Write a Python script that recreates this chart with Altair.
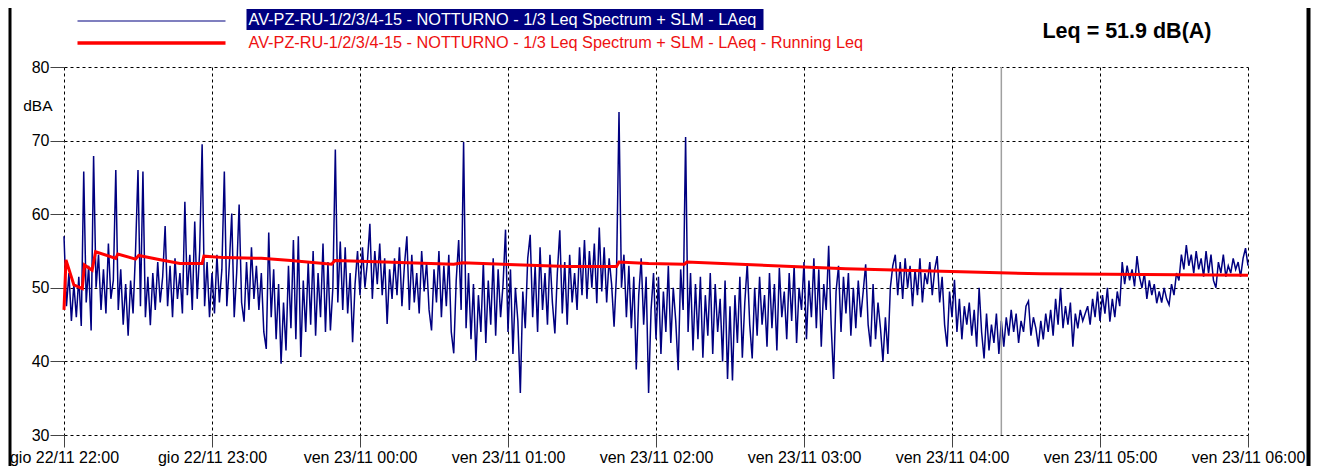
import altair as alt
import pandas as pd

# ---------------- data ----------------
tick_minutes = [0, 60, 120, 180, 240, 300, 360, 420, 480]
tick_labels = [
    "gio 22/11 22:00", "gio 22/11 23:00", "ven 23/11 00:00", "ven 23/11 01:00",
    "ven 23/11 02:00", "ven 23/11 03:00", "ven 23/11 04:00", "ven 23/11 05:00",
    "ven 23/11 06:00",
]
y_ticks = [30, 40, 50, 60, 70, 80]

# LAeq, one value per minute from 22:00 (minute 0) to 06:00 (minute 480)
laeq = [
    57.0, 47.5, 52.0, 45.5, 50.5, 46.0, 51.5, 44.8, 65.8, 48.0, 53.0, 44.2, 67.9, 50.0, 54.5, 47.0, 52.5, 46.5, 56.0, 48.5,
    51.0, 66.0, 47.0, 52.5, 45.0, 50.5, 43.5, 51.0, 46.5, 55.0, 66.0, 47.5, 65.8, 46.0, 51.5, 44.9, 52.0, 47.0, 53.5, 48.0,
    51.5, 58.4, 47.5, 53.0, 46.0, 54.0, 48.5, 52.0, 46.5, 61.7, 49.0, 54.5, 47.0, 59.0, 48.5, 55.0, 69.5, 47.5, 53.5, 46.0,
    52.0, 46.5, 54.5, 48.0, 52.5, 65.8, 47.5, 53.0, 60.1, 46.0, 52.0, 61.3, 48.0, 45.4, 53.5, 47.0, 55.5, 48.5, 53.0, 47.0,
    52.0, 44.0, 41.7, 57.5, 46.0, 52.5, 43.0, 50.5, 39.7, 48.0, 41.5, 53.0, 44.5, 56.5, 43.0, 57.0, 40.6, 51.0, 44.0, 53.5,
    45.0, 55.0, 43.5, 52.0, 46.0, 56.0, 44.0, 53.5, 44.2, 50.0, 68.8, 48.0, 56.3, 47.0, 55.5, 46.5, 52.0, 42.6, 50.5, 55.0,
    49.0, 55.5, 50.0, 53.5, 58.7, 48.5, 55.0, 50.5, 56.0, 49.0, 54.0, 45.1, 52.5, 48.5, 54.0, 49.0, 55.5, 47.5, 53.0, 57.0,
    47.0, 54.5, 48.0, 52.0, 46.5, 55.0, 49.5, 53.5, 47.0, 44.2, 52.5, 48.0, 55.0, 46.0, 53.0, 47.5, 54.5, 44.0, 41.1, 51.0,
    56.5, 47.0, 69.8, 44.5, 52.0, 43.0, 50.5, 40.1, 49.0, 44.0, 53.5, 42.5, 51.0, 45.0, 54.0, 43.5, 52.5, 46.0, 50.5, 57.9,
    44.0, 52.5, 41.0, 50.0, 45.5, 35.7, 49.5, 44.5, 54.0, 57.2, 46.0, 53.0, 44.0, 55.5, 47.0, 52.0, 45.0, 54.5, 48.0, 43.8,
    52.0, 57.8, 46.5, 53.5, 45.0, 54.5, 48.0, 52.0, 47.0, 55.5, 49.0, 56.5, 48.5, 55.0, 50.0, 56.0, 47.9, 58.2, 49.5, 55.5,
    48.0, 54.0, 50.5, 44.7, 52.0, 73.9, 50.0, 54.5, 46.0, 53.0, 44.5, 51.5, 38.9, 49.0, 54.0, 45.0, 51.5, 35.7, 47.0, 52.0,
    43.0, 51.5, 41.0, 49.5, 44.0, 53.0, 42.5, 50.0, 45.5, 38.8, 52.5, 47.0, 70.5, 44.0, 52.0, 41.5, 50.5, 43.0, 51.5, 40.5,
    49.0, 43.5, 52.0, 41.0, 50.5, 44.0, 48.5, 40.0, 51.0, 37.6, 47.5, 37.4, 49.0, 42.5, 51.5, 40.5, 48.0, 53.3, 45.0, 40.4,
    50.0, 43.5, 51.5, 45.0, 49.0, 42.0, 52.0, 44.5, 50.5, 41.5, 52.7, 46.0, 49.5, 43.0, 52.0, 45.5, 53.0, 42.5, 50.0, 47.0,
    53.5, 43.0, 51.0, 46.0, 54.0, 44.5, 52.5, 42.0, 50.5, 47.0, 55.7, 45.0, 37.6, 49.5, 53.0, 44.0, 51.5, 46.5, 52.0, 43.5,
    50.0, 44.5, 51.0, 46.0, 49.5, 53.2, 45.0, 42.0, 50.5, 43.0, 48.0, 44.5, 40.0, 46.0, 41.0, 50.0, 53.0, 54.5, 49.0, 53.5,
    48.5, 54.0, 50.0, 53.0, 47.5, 52.5, 49.0, 54.0, 48.0, 52.0, 50.5, 53.5, 49.0, 52.5, 54.3, 48.0, 51.5, 45.0, 42.0, 49.5,
    46.0, 51.1, 44.0, 48.5, 43.0, 47.5, 45.0, 48.0, 43.5, 47.0, 42.0, 50.0, 44.0, 40.4, 46.5, 41.5, 45.0, 42.5, 46.5, 41.0,
    45.5, 42.0, 46.0, 43.5, 47.0, 44.0, 46.5, 42.5, 45.5, 44.0, 47.5, 48.2, 43.5, 46.0, 44.5, 42.0, 45.5, 43.0, 46.5, 44.0,
    47.0, 43.5, 48.5, 45.0, 50.0, 44.5, 47.5, 45.0, 48.0, 42.0, 46.5, 44.5, 47.0, 45.5, 46.5, 47.5, 45.0, 48.5, 46.0, 49.5,
    45.5, 49.0, 46.5, 50.0, 45.4, 48.5, 46.0, 49.5, 47.5, 53.5, 50.5, 53.0, 51.0, 52.5, 50.2, 54.3, 51.5, 50.0, 52.0, 48.5,
    51.0, 49.0, 50.5, 47.9, 49.5, 48.0, 50.0, 48.5, 47.7, 50.5, 49.0, 52.0, 51.0, 54.5, 52.5, 55.8, 53.0, 54.5, 52.0, 55.0,
    52.5, 54.0, 51.5, 55.0, 52.0, 54.5, 51.0, 50.0, 53.5, 52.0, 54.5, 51.5, 53.0, 52.0, 54.0, 52.5, 53.5, 51.5, 54.0, 55.4, 53.0,
]

# Running Leq (minutes from 22:00, dB)
red_t = [0, 0.8, 4, 7.4, 8.3, 11.4, 12.8, 21, 21.8, 29, 30.3, 39, 47, 56, 56.7, 65, 80, 92,
         108.5, 109.8, 130, 158, 161.5, 204, 224, 225, 237, 251.5, 252.5, 317, 396, 480]
red_v = [47.0, 53.8, 50.4, 49.9, 53.1, 52.4, 54.9, 54.0, 54.6, 53.9, 54.4, 53.8, 53.3, 53.3, 54.3, 54.1, 54.0, 53.7,
         53.2, 53.7, 53.5, 53.2, 53.4, 52.9, 52.9, 53.5, 53.3, 53.2, 53.5, 52.6, 51.9, 51.7]

marker_t = [380]

series_blue = "AV-PZ-RU-1/2/3/4-15 - NOTTURNO - 1/3 Leq Spectrum + SLM - LAeq"
series_red = "AV-PZ-RU-1/2/3/4-15 - NOTTURNO - 1/3 Leq Spectrum + SLM - LAeq - Running Leq"
leq_text = "Leq = 51.9 dB(A)"
y_unit = "dBA"

# ---------------- chart ----------------
W, H = 1184, 368
FONT = "Liberation Sans"
NAVY = "#000080"
RED = "#ff0000"

blue_df = pd.DataFrame({"t": list(range(len(laeq))), "v": laeq})
red_df = pd.DataFrame({"t": red_t, "v": red_v})
marker_df = pd.DataFrame({"t": marker_t})
one = pd.DataFrame({"a": [0]})

xs = alt.Scale(domain=[0, 480], nice=False, zero=False)
ys = alt.Scale(domain=[30, 80], nice=False, zero=False)

label_expr = "[" + ",".join("'%s'" % s for s in tick_labels) + "][round(datum.value/60)]"

x_axis = alt.Axis(values=tick_minutes, labelExpr=label_expr, title=None, grid=True,
                  gridDash=[3, 3], gridColor="#000000", gridOpacity=1, gridWidth=1,
                  domain=False, tickSize=12, tickColor="#444444", tickWidth=1,
                  labelFont=FONT, labelFontSize=16, labelColor="#000000",
                  labelPadding=2, labelFlush=False, labelOverlap=False)
y_axis = alt.Axis(values=y_ticks, title=None, grid=True, gridDash=[3, 3],
                  gridColor="#000000", gridOpacity=1, gridWidth=1, domain=False,
                  tickSize=14, tickColor="#444444", tickWidth=1,
                  labelFont=FONT, labelFontSize=16, labelColor="#000000",
                  labelPadding=1)

X = alt.X("t:Q", scale=xs, axis=x_axis)
Y = alt.Y("v:Q", scale=ys, axis=y_axis)

blue = alt.Chart(blue_df).mark_line(color=NAVY, strokeWidth=1.5).encode(x=X, y=Y)
red = alt.Chart(red_df).mark_line(color=RED, strokeWidth=3).encode(x=X, y=Y)
marker = alt.Chart(marker_df).mark_rule(color="#a0a0a0", strokeWidth=1.5).encode(
    x=X, y=alt.value(0), y2=alt.value(H),
)

# legend / annotations
leg_blue_line = alt.Chart(one).mark_rule(color=NAVY, strokeWidth=1.2).encode(
    x=alt.value(13.5), x2=alt.value(161.5), y=alt.value(-46))
leg_red_line = alt.Chart(one).mark_rule(color=RED, strokeWidth=3.5).encode(
    x=alt.value(13.5), x2=alt.value(161.5), y=alt.value(-24))
leg_box = alt.Chart(one).mark_rect(color=NAVY).encode(
    x=alt.value(182.5), x2=alt.value(699.5), y=alt.value(-58), y2=alt.value(-37))
leg_blue_text = alt.Chart(one).mark_text(align="left", baseline="middle", font=FONT,
                                         fontSize=16.3, color="#ffffff").encode(
    x=alt.value(184.5), y=alt.value(-47), text=alt.value(series_blue))
leg_red_text = alt.Chart(one).mark_text(align="left", baseline="middle", font=FONT,
                                        fontSize=16.3, color="#ee1111").encode(
    x=alt.value(184.5), y=alt.value(-24), text=alt.value(series_red))
leq_label = alt.Chart(one).mark_text(align="right", baseline="middle", font=FONT,
                                     fontSize=21.5, fontWeight="bold", color="#000000").encode(
    x=alt.value(1147.5), y=alt.value(-35), text=alt.value(leq_text))
unit_label = alt.Chart(one).mark_text(align="right", baseline="middle", font=FONT,
                                      fontSize=15.5, color="#000000").encode(
    x=alt.value(-11.5), y=alt.value(39), text=alt.value(y_unit))
frame_left = alt.Chart(one).mark_rule(color="#000000", strokeWidth=3).encode(
    x=alt.value(-54), y=alt.value(-59), y2=alt.value(H + 31))
frame_right = alt.Chart(one).mark_rule(color="#000000", strokeWidth=4).encode(
    x=alt.value(1244.5), y=alt.value(-59), y2=alt.value(H + 31))

chart = alt.layer(
    blue, marker, red,
    leg_blue_line, leg_red_line, leg_box, leg_blue_text, leg_red_text,
    leq_label, unit_label, frame_left, frame_right,
).properties(
    width=W, height=H,
    autosize=alt.AutoSizeParams(type="none"),
    padding={"left": 56, "top": 59, "right": 65, "bottom": 31},
    background="#ffffff",
).configure_view(stroke=None)

chart.save("out.html", embed_options={"renderer": "svg", "actions": False})
